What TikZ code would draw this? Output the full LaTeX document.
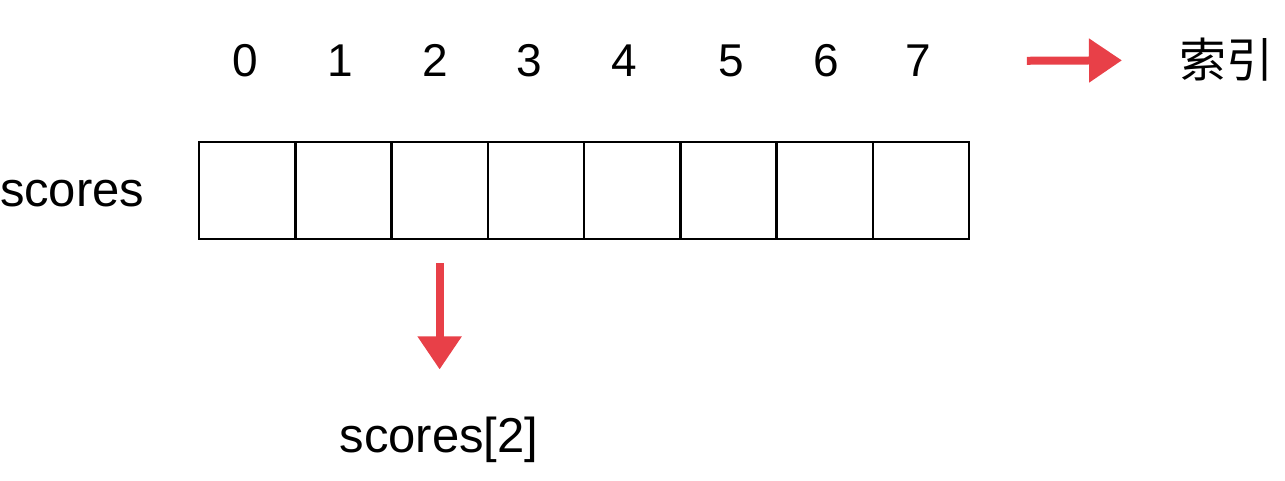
\documentclass[tikz,border=0pt]{standalone}
\usepackage{fontspec}
\setmainfont{Liberation Sans}
\newfontfamily\cjk{Noto Sans CJK SC}
\usetikzlibrary{arrows.meta}
\definecolor{arrowred}{RGB}{232,64,72}
\tikzset{
  cell/.style={draw=black, line width=2.5pt, minimum width=96.25pt, minimum height=97pt, inner sep=0pt, outer sep=0pt},
  lbl/.style={inner sep=0pt, outer sep=0pt, font=\fontsize{46}{50}\selectfont},
  word/.style={inner sep=0pt, outer sep=0pt, font=\fontsize{49}{54}\selectfont},
  redarrow/.style={draw=arrowred, line width=8pt, -{Triangle[length=33pt,width=42pt]}}
}
\begin{document}
\begin{tikzpicture}[x=1pt,y=-1pt]
\useasboundingbox (0,0) rectangle (1285,481);
% cells
\foreach \i in {0,...,7} {
  \node[cell] (c\i) at ({199+96.25*(\i+0.5)},190.5) {};
}
% indices
\node[lbl, anchor=base] (i0) at (245.5,77) {0};
\node[lbl, anchor=base] (i1) at (340,77) {1};
\node[lbl, anchor=base] (i2) at (435,77) {2};
\node[lbl, anchor=base] (i3) at (529,77) {3};
\node[lbl, anchor=base] (i4) at (624,77) {4};
\node[lbl, anchor=base] (i5) at (731,77) {5};
\node[lbl, anchor=base] (i6) at (826,77) {6};
\node[lbl, anchor=base] (i7) at (918,77) {7};
\node[inner sep=0pt, outer sep=0pt, anchor=base west, font=\fontsize{47}{52}\selectfont\cjk] (idx) at (1179,78) {索引};
% labels
\node[word, anchor=base west] (name) at (0,207) {scores};
\node[word, anchor=base] (elem) at (439,452) {scores[2]};
% arrows
\draw[redarrow, shorten <=96pt, shorten >=57pt] (i7.east) -- (idx.west);
\draw[redarrow, shorten <=24pt, shorten >=47pt] (c2.south) -- (c2.south |- elem.north);
\end{tikzpicture}
\end{document}
